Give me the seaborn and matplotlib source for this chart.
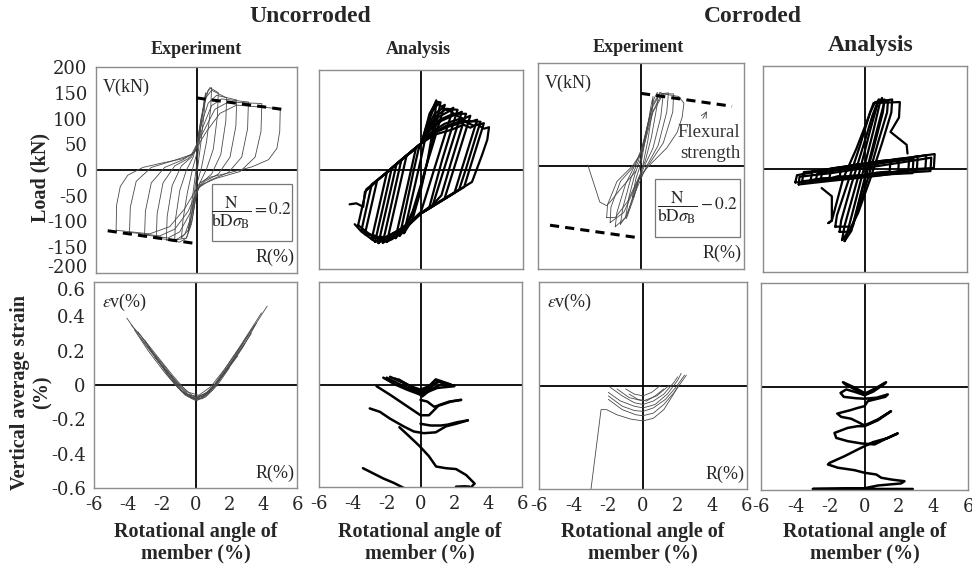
import matplotlib
matplotlib.use("Agg")
import matplotlib.pyplot as plt
import pandas as pd
import seaborn as sns
from matplotlib.patches import Rectangle

# ---------------------------------------------------------------------
# Data (R in %, V in kN, strain in %)
# ---------------------------------------------------------------------
# Uncorroded / experiment : load - rotation loops
ue_load = [
    [(-0.5, -120), (-0.35, -80), (-0.15, -30), (0.05, 20), (0.25, 80), (0.45, 135), (0.55, 150),
     (0.45, 110), (0.25, 50), (0.05, 0), (-0.15, -50), (-0.35, -100), (-0.5, -120)],
    [(-0.9, -132), (-0.8, -95), (-0.55, -45), (-0.25, 0), (0.0, 30), (0.2, 75), (0.45, 125), (0.7, 155),
     (0.9, 160), (0.85, 120), (0.6, 55), (0.3, 5), (0.0, -30), (-0.2, -70), (-0.45, -115), (-0.9, -132)],
    [(-1.3, -136), (-1.25, -95), (-1.0, -40), (-0.6, 0), (-0.2, 25), (0.05, 55), (0.3, 105), (0.55, 145),
     (0.8, 160), (1.3, 150), (1.25, 105), (1.0, 40), (0.6, 2), (0.2, -25), (-0.05, -55), (-0.3, -105),
     (-0.6, -132), (-1.3, -136)],
    [(-1.8, -136), (-1.75, -90), (-1.45, -30), (-0.9, 8), (-0.3, 25), (0.0, 45), (0.25, 95), (0.55, 140),
     (0.9, 155), (1.8, 140), (1.75, 95), (1.45, 30), (0.9, -8), (0.3, -25), (0.0, -45), (-0.25, -95),
     (-0.6, -132), (-1.0, -140), (-1.8, -136)],
    [(-2.4, -132), (-2.35, -85), (-2.0, -25), (-1.3, 8), (-0.5, 22), (-0.05, 38), (0.3, 90), (0.7, 130),
     (1.2, 145), (2.4, 136), (2.35, 85), (2.0, 25), (1.3, -8), (0.5, -22), (0.05, -38), (-0.3, -90),
     (-0.7, -125), (-1.3, -137), (-2.4, -132)],
    [(-3.1, -126), (-3.05, -80), (-2.7, -25), (-1.9, 5), (-0.8, 20), (-0.1, 35), (0.4, 85), (0.9, 125),
     (1.5, 138), (3.1, 132), (3.05, 80), (2.7, 25), (1.9, -5), (0.8, -20), (0.1, -35), (-0.4, -85),
     (-1.0, -120), (-1.7, -132), (-3.1, -126)],
    [(-4.0, -121), (-3.95, -72), (-3.6, -22), (-2.7, 5), (-1.4, 18), (-0.3, 30), (0.5, 80), (1.1, 118),
     (1.9, 132), (3.9, 129), (3.85, 75), (3.5, 25), (2.6, -3), (1.2, -16), (0.2, -30), (-0.5, -80),
     (-1.3, -115), (-2.2, -128), (-4.0, -121)],
    [(-4.8, -117), (-4.77, -68), (-4.55, -32), (-4.1, -10), (-3.2, 5), (-2.0, 14), (-0.8, 22), (-0.2, 32),
     (0.6, 75), (1.4, 110), (2.4, 126), (5.0, 119), (4.97, 75), (4.8, 42), (4.3, 20), (3.3, 6), (2.0, -5),
     (0.8, -14), (0.2, -25), (-0.7, -75), (-1.6, -110), (-2.8, -124), (-4.8, -117)],
]
ue_flex_pos_R = [0.0, 5.3]
ue_flex_pos_V = [140, 117]
ue_flex_neg_R = [-5.3, 0.0]
ue_flex_neg_V = [-118, -143]

# Uncorroded / analysis : load - rotation loops
ua_load = [
    [(-1.0, -128), (-0.5, -53), (0.0, 22), (0.3, 70), (0.6, 115), (0.9, 139), (0.8, 100), (0.4, 20),
     (0.0, -40), (-0.5, -100), (-1.0, -128)],
    [(-1.25, -133), (-0.85, -70), (-0.45, -5), (-0.15, 40), (0.1, 60), (0.5, 112), (0.9, 136), (1.15, 135),
     (0.95, 100), (0.55, 40), (0.15, -15), (-0.3, -70), (-0.8, -115), (-1.25, -133)],
    [(-1.5, -138), (-1.0, -63), (-0.6, -3), (-0.29, 44), (0.0, 52), (0.3, 85), (0.7, 118), (1.0, 132),
     (1.2, 126), (1.4, 130), (1.1, 97), (0.7, 50), (0.3, 6), (0.0, -30), (-0.5, -85), (-1.0, -120), (-1.5, -138)],
    [(-2.0, -145), (-1.6, -85), (-1.2, -25), (-0.85, 28), (-0.4, 41), (0.0, 52), (0.3, 80), (0.8, 112),
     (1.3, 124), (1.6, 118), (1.9, 124), (1.5, 80), (1.0, 25), (0.5, -30), (0.0, -85), (-0.8, -112),
     (-1.5, -135), (-2.0, -145)],
    [(-2.25, -147), (-1.85, -87), (-1.5, -33), (-1.15, 20), (-0.6, 35), (0.0, 52), (0.35, 80), (0.9, 108),
     (1.5, 122), (2.15, 120), (1.75, 76), (1.25, 20), (0.85, -30), (0.5, -75), (0.0, -88), (-0.8, -114),
     (-1.7, -140), (-2.25, -147)],
    [(-2.5, -148), (-2.1, -88), (-1.75, -36), (-1.44, 11), (-0.8, 29), (0.0, 52), (0.4, 80), (1.0, 105),
     (1.7, 118), (2.0, 110), (2.4, 116), (2.0, 72), (1.5, 17), (1.0, -38), (0.67, -74), (0.0, -88),
     (-0.8, -112), (-1.6, -135), (-2.2, -140), (-2.5, -148)],
    [(-2.7, -145), (-2.3, -85), (-2.0, -40), (-1.72, 3), (-1.0, 24), (-0.3, 44), (0.0, 52), (0.45, 78),
     (1.1, 100), (1.9, 112), (2.65, 112), (2.25, 68), (1.75, 12), (1.2, -52), (0.5, -78), (0.0, -88),
     (-0.9, -118), (-1.9, -142), (-2.7, -145)],
    [(-2.9, -140), (-2.5, -80), (-2.2, -35), (-2.0, -5), (-1.2, 18), (-0.4, 41), (0.0, 52), (0.5, 78),
     (1.2, 98), (2.0, 110), (2.5, 102), (2.9, 108), (2.5, 64), (2.0, 9), (1.38, -59), (0.6, -76), (0.0, -88),
     (-0.8, -113), (-1.8, -138), (-2.4, -135), (-2.9, -140)],
    [(-3.3, -130), (-2.9, -70), (-2.58, -22), (-1.6, 6), (-0.6, 35), (0.0, 52), (0.6, 75), (1.4, 92),
     (2.3, 102), (2.8, 95), (3.3, 100), (2.9, 56), (2.4, 1), (1.97, -47), (1.0, -67), (0.0, -88),
     (-1.0, -116), (-2.2, -140), (-2.8, -132), (-3.3, -130)],
    [(-3.5, -122), (-3.15, -68), (-2.9, -30), (-2.0, -6), (-1.0, 23), (0.0, 52), (0.65, 73), (1.5, 88),
     (2.4, 98), (3.5, 96), (3.1, 52), (2.65, 2), (2.25, -40), (1.2, -62), (0.0, -88), (-1.1, -118),
     (-2.3, -141), (-3.0, -132), (-3.5, -122)],
    [(-3.7, -112), (-3.4, -67), (-3.22, -40), (-2.3, -14), (-1.2, 18), (0.0, 52), (0.7, 72), (1.6, 86),
     (2.6, 96), (3.1, 88), (3.7, 93), (3.3, 49), (2.9, 5), (2.54, -35), (1.3, -61), (0.0, -88),
     (-1.2, -120), (-2.4, -142), (-3.1, -128), (-3.7, -112)],
    [(-4.2, -70), (-3.8, -68), (-3.4, -75), (-3.3, -45), (-2.4, -17), (-1.2, 18), (0.0, 52), (0.8, 70),
     (1.8, 80), (2.5, 90), (2.9, 84), (3.3, 91), (3.7, 82), (4.0, 85), (3.9, 60), (3.6, 30), (3.0, -25),
     (1.5, -57), (0.0, -88), (-1.5, -128), (-2.7, -145), (-3.5, -125), (-3.9, -110)],
]

# Corroded / experiment : load - rotation loops
ce_load = [
    [(-0.5, -60), (-0.3, -25), (0.0, 5), (0.3, 60), (0.6, 120), (0.7, 135), (0.65, 105), (0.4, 50),
     (0.1, 0), (-0.2, -35), (-0.45, -62), (-0.5, -60)],
    [(-0.9, -100), (-0.7, -60), (-0.35, -15), (0.0, 15), (0.35, 75), (0.75, 130), (0.95, 143), (0.95, 120),
     (0.6, 55), (0.25, 10), (0.0, -10), (-0.4, -60), (-0.85, -102), (-0.9, -100)],
    [(-1.2, -113), (-1.05, -80), (-0.6, -25), (-0.15, 10), (0.2, 55), (0.7, 120), (1.1, 143), (1.3, 140),
     (1.15, 95), (0.7, 35), (0.2, 0), (-0.3, -40), (-0.8, -95), (-1.2, -113)],
    [(-1.5, -118), (-1.4, -90), (-0.9, -35), (-0.3, 5), (0.1, 40), (0.6, 110), (1.1, 140), (1.6, 142),
     (1.5, 105), (1.0, 40), (0.3, -2), (-0.2, -40), (-0.9, -100), (-1.5, -118)],
    [(-1.8, -110), (-1.75, -80), (-1.2, -30), (-0.4, 0), (0.05, 30), (0.6, 100), (1.2, 140), (1.9, 140),
     (1.85, 105), (1.3, 45), (0.5, 5), (-0.2, -30), (-1.0, -90), (-1.8, -110)],
    [(-2.0, -100), (-1.95, -75), (-1.4, -30), (-0.5, 0), (0.1, 30), (0.7, 105), (1.3, 140), (2.2, 135),
     (2.5, 122), (2.4, 95), (2.1, 65), (1.5, 35), (0.6, 5), (-0.1, -20), (-0.8, -70), (-1.5, -100), (-2.0, -100)],
    [(-0.3, -10), (-1.2, -45), (-1.8, -70), (-2.0, -77), (-2.4, -70), (-3.1, 2)],
]
ce_flex_pos_R = [0.0, 5.3]
ce_flex_pos_V = [141, 116]
ce_flex_neg_R = [-5.3, 0.0]
ce_flex_neg_V = [-115, -140]

# Corroded / analysis : load - rotation loops (steep strips + flat loops)
ca_load = [
    [(-1.2, -140), (-1.0, -118), (-0.5, -55), (0.0, 10), (0.5, 75), (0.85, 125), (1.0, 138), (1.1, 125),
     (0.7, 75), (0.2, 10), (-0.3, -55), (-0.8, -120), (-1.2, -140)],
    [(-1.35, -138), (-1.2, -110), (-0.4, -15), (0.3, 75), (0.75, 128), (1.15, 135), (1.05, 110), (0.5, 40),
     (-0.2, -45), (-0.7, -110), (-1.35, -138)],
    [(-1.5, -122), (-1.4, -100), (-0.8, -30), (-0.1, 45), (0.45, 105), (0.8, 135), (1.35, 132), (1.3, 110),
     (0.8, 55), (0.2, -15), (-0.4, -80), (-0.9, -122), (-1.5, -122)],
    [(-1.75, -112), (-1.65, -90), (-1.0, -25), (-0.3, 45), (0.3, 110), (0.6, 130), (1.6, 135), (1.55, 110),
     (1.0, 50), (0.3, -20), (-0.4, -85), (-0.8, -112), (-1.75, -112)],
    [(-2.55, -37), (-1.95, -53), (-1.95, -100), (-2.15, -105), (-1.95, -100), (-1.3, -20), (-0.5, 40),
     (0.2, 100), (0.5, 128), (2.05, 130), (2.0, 100), (1.5, 72), (2.45, 47), (2.5, 30)],
    [(-1.5, -17), (-1.4, 3), (-0.7, 5), (0.0, 10), (0.8, 15), (1.5, 17), (1.45, -5), (0.7, -7), (0.0, -12),
     (-0.8, -13), (-1.5, -17)],
    [(-2.1, -19), (-2.0, 0), (-1.0, 5), (-0.5, 9), (0.0, 10), (1.0, 15), (1.5, 14), (2.0, 19), (1.95, -6),
     (1.0, -9), (0.0, -12), (-1.0, -15), (-1.6, -14), (-2.1, -19)],
    [(-2.6, -20), (-2.5, -2), (-1.2, 4), (-0.6, 8), (0.0, 11), (1.3, 16), (2.0, 20), (2.6, 22), (2.55, -4),
     (1.3, -8), (0.6, -12), (0.0, -13), (-1.3, -16), (-2.0, -20), (-2.6, -20)],
    [(-2.9, -23), (-2.8, -8), (-1.5, -2), (0.0, 6), (1.5, 14), (2.85, 20), (2.8, -8), (1.5, -10), (0.0, -15),
     (-1.5, -20), (-2.9, -23)],
    [(-3.2, -22), (-3.1, -4), (-2.2, -1), (-1.5, 3), (0.0, 10), (1.5, 17), (2.4, 20), (3.1, 25), (3.05, -2),
     (2.2, -3), (1.5, -7), (0.0, -12), (-1.6, -17), (-2.5, -18), (-3.2, -22)],
    [(-3.7, -24), (-3.6, -6), (-2.6, -3), (-1.8, 2), (0.0, 10), (1.8, 18), (2.8, 22), (3.6, 27), (3.55, -1),
     (2.6, -2), (1.8, -6), (0.0, -12), (-1.8, -18), (-3.0, -21), (-3.7, -24)],
    [(-3.9, -30), (-3.85, -15), (-2.0, -8), (0.0, 2), (2.0, 12), (3.9, 22), (3.85, -4), (2.0, -8), (0.0, -16),
     (-2.0, -23), (-3.9, -30)],
    [(-4.1, -26), (-4.0, -12), (-3.0, -6), (-2.0, 0), (-1.0, 4), (0.0, 9), (1.0, 16), (2.0, 19), (3.0, 24),
     (4.1, 29), (4.05, 2), (3.0, 0), (2.0, -5), (1.0, -7), (0.0, -12), (-1.0, -15), (-2.0, -18), (-3.0, -24),
     (-4.1, -26)],
]

# Uncorroded / experiment : vertical strain - rotation
ue_strain = [
    [(-4.06, 0.39), (-3.0, 0.24), (-2.0, 0.11), (-1.2, 0.0), (-0.6, -0.05), (0.0, -0.07), (0.6, -0.05),
     (1.2, 0.0), (2.0, 0.11), (3.0, 0.27), (4.24, 0.46)],
    [(-3.8, 0.35), (-3.0, 0.26), (-2.2, 0.16), (-1.3, 0.05), (-0.5, -0.04), (0.2, -0.06), (0.9, -0.01),
     (1.7, 0.09), (2.6, 0.22), (3.9, 0.42)],
    [(-3.6, 0.32), (-2.8, 0.2), (-1.8, 0.07), (-1.0, -0.02), (-0.3, -0.07), (0.3, -0.08), (1.0, -0.02),
     (1.9, 0.09), (2.8, 0.22), (3.6, 0.36)],
    [(-3.4, 0.31), (-2.6, 0.2), (-1.7, 0.08), (-0.9, 0.0), (-0.2, -0.06), (0.4, -0.07), (1.1, 0.0),
     (2.0, 0.13), (2.9, 0.26), (3.5, 0.35)],
    [(-3.2, 0.27), (-2.5, 0.18), (-1.5, 0.04), (-0.8, -0.04), (0.0, -0.08), (0.8, -0.04), (1.5, 0.05),
     (2.5, 0.18), (3.3, 0.3)],
    [(-2.8, 0.22), (-2.0, 0.13), (-1.0, 0.0), (-0.4, -0.06), (0.1, -0.09), (0.6, -0.06), (1.3, 0.02),
     (2.2, 0.14), (2.9, 0.24)],
    [(-2.4, 0.16), (-1.6, 0.07), (-0.9, -0.03), (-0.2, -0.08), (0.4, -0.08), (1.0, -0.03), (1.8, 0.08),
     (2.5, 0.17)],
    [(-2.0, 0.12), (-1.3, 0.03), (-0.6, -0.06), (0.0, -0.09), (0.6, -0.07), (1.3, 0.0), (2.0, 0.1)],
    [(-1.5, 0.06), (-1.0, 0.0), (-0.5, -0.05), (0.1, -0.075), (0.7, -0.04), (1.3, 0.02), (1.6, 0.06)],
    [(-3.0, 0.26), (-2.2, 0.14), (-1.4, 0.03), (-0.7, -0.05), (0.0, -0.085), (0.7, -0.05), (1.4, 0.03),
     (2.2, 0.15), (3.1, 0.29)],
]

# Uncorroded / analysis : vertical strain - rotation
ua_strain = [
    [(-2.2, 0.04), (-1.5, 0.0), (-0.8, -0.03), (0.0, -0.06), (0.5, -0.04), (1.0, -0.02), (2.0, -0.01)],
    [(-2.0, 0.04), (-1.2, 0.0), (-0.5, -0.03), (0.0, -0.05), (0.6, -0.02), (1.0, 0.02), (1.6, 0.0)],
    [(-1.8, 0.045), (-1.0, 0.01), (-0.4, -0.02), (0.0, -0.04), (0.5, -0.01), (0.9, 0.03), (1.8, 0.0)],
    [(-1.5, 0.035), (-0.8, 0.0), (-0.2, -0.04), (0.1, -0.07), (0.6, -0.03), (1.2, 0.0), (2.0, -0.005)],
    [(-1.3, 0.03), (-0.6, -0.01), (0.0, -0.03), (0.5, -0.01), (1.2, 0.02)],
    [(-2.6, -0.01), (-1.8, -0.06), (-1.2, -0.1), (-0.6, -0.14), (0.0, -0.18), (0.5, -0.18), (0.8, -0.15),
     (1.1, -0.12), (1.7, -0.1), (2.4, -0.09)],
    [(0.0, -0.09), (0.4, -0.1), (0.8, -0.13), (1.2, -0.12), (1.8, -0.1), (2.4, -0.09)],
    [(-3.0, -0.14), (-2.4, -0.16), (-1.8, -0.2), (-1.0, -0.245), (-0.4, -0.275), (0.2, -0.285),
     (0.9, -0.28), (1.5, -0.245), (2.1, -0.23), (2.8, -0.21)],
    [(0.0, -0.23), (0.6, -0.24), (1.2, -0.24), (1.6, -0.235), (2.2, -0.22), (2.8, -0.21)],
    [(-1.25, -0.25), (-0.7, -0.3), (-0.06, -0.36), (0.5, -0.42), (0.92, -0.48), (1.5, -0.49), (2.1, -0.495),
     (2.7, -0.53), (3.2, -0.58), (3.0, -0.6)],
    [(-3.4, -0.49), (-2.8, -0.52), (-2.2, -0.55), (-1.6, -0.575), (-0.9, -0.61)],
    [(2.1, -0.598), (2.6, -0.596), (2.9, -0.598)],
]

# Corroded / experiment : vertical strain - rotation
ce_strain = [
    [(-1.0, -0.02), (-0.5, -0.05), (0.0, -0.06), (0.5, -0.04), (1.0, 0.0)],
    [(-0.8, -0.05), (-0.3, -0.08), (0.2, -0.09), (0.7, -0.06), (1.2, -0.02)],
    [(-1.5, -0.02), (-0.8, -0.07), (0.0, -0.09), (0.8, -0.06), (1.5, 0.0)],
    [(-1.9, -0.01), (-1.2, -0.06), (-0.5, -0.1), (0.0, -0.11), (0.6, -0.09), (1.2, -0.05), (1.8, 0.02),
     (2.0, 0.05)],
    [(-2.0, -0.04), (-1.3, -0.09), (-0.5, -0.12), (0.0, -0.13), (0.7, -0.11), (1.4, -0.05), (2.0, 0.03),
     (2.2, 0.07)],
    [(-2.0, -0.06), (-1.2, -0.12), (-0.5, -0.145), (0.0, -0.15), (0.6, -0.13), (1.3, -0.08), (1.9, -0.01),
     (2.4, 0.06)],
    [(-2.0, -0.08), (-1.2, -0.14), (-0.4, -0.17), (0.0, -0.175), (0.6, -0.16), (1.2, -0.11), (1.8, -0.04),
     (2.5, 0.06)],
    [(-2.4, -0.14), (-2.1, -0.14), (-1.5, -0.17), (-0.7, -0.195), (0.0, -0.205), (0.6, -0.19),
     (1.2, -0.14), (1.7, -0.06), (2.0, -0.01)],
    [(-2.42, -0.14), (-3.0, -0.6)],
]

# Corroded / analysis : vertical strain - rotation
ca_strain = [
    [(-1.2, 0.02), (-0.6, -0.01), (0.0, -0.045), (0.6, -0.015), (1.2, 0.02)],
    [(-1.15, 0.015), (-0.5, -0.02), (0.0, -0.05), (0.6, -0.02), (1.15, 0.015)],
    [(-1.25, 0.025), (-0.6, -0.005), (0.05, -0.04), (0.65, -0.01), (1.25, 0.025)],
    [(1.2, 0.02), (0.5, -0.03), (0.0, -0.05), (-0.6, -0.03), (-1.06, -0.017), (-1.39, -0.037), (-1.2, -0.06),
     (-0.5, -0.068), (0.0, -0.071), (0.7, -0.065), (1.35, -0.046), (1.2, -0.06), (0.19, -0.085),
     (0.0, -0.114), (-0.39, -0.124), (-0.81, -0.137), (-1.58, -0.157), (-1.35, -0.176), (-0.77, -0.187),
     (-0.3, -0.21), (0.0, -0.226), (0.77, -0.191), (1.54, -0.143), (0.77, -0.196), (0.0, -0.23),
     (-0.39, -0.23), (-0.97, -0.24), (-1.74, -0.269), (-1.64, -0.298), (-0.97, -0.317), (-0.19, -0.33),
     (0.58, -0.336), (1.16, -0.307), (1.93, -0.272), (1.3, -0.3), (0.48, -0.323), (-0.39, -0.365),
     (-1.16, -0.404), (-2.03, -0.443), (-2.12, -0.452), (-1.54, -0.471), (-0.58, -0.485), (0.0, -0.5),
     (0.68, -0.51), (0.97, -0.529), (1.54, -0.539), (2.32, -0.549), (2.12, -0.562), (0.77, -0.574),
     (0.0, -0.59), (-3.0, -0.594), (2.8, -0.594)],
]

load_ticks = [200, 150, 100, 50, 0, -50, -100, -150, -200]
load_tick_labels = ["200", "150", "100", "50", "0", "-50", "-100", "-150", "-200"]
strain_ticks = [0.6, 0.4, 0.2, 0, -0.2, -0.4, -0.6]
strain_tick_labels = ["0.6", "0.4", "0.2", "0", "-0.2", "-0.4", "-0.6"]
rot_ticks = list(range(-6, 7))
rot_tick_labels = ["-6", "", "-4", "", "-2", "", "0", "", "2", "", "4", "", "6"]

# ---------------------------------------------------------------------
# Figure
# ---------------------------------------------------------------------
sns.set_style("white")
plt.rcParams["font.family"] = ["DejaVu Serif"]
plt.rcParams["mathtext.fontset"] = "stix"
plt.rcParams["axes.unicode_minus"] = False

W, H = 972, 566
fig = plt.figure(figsize=(W / 100, H / 100), dpi=100)


def box(x0, y0, x1, y1):
    return [x0 / W, 1 - y1 / H, (x1 - x0) / W, (y1 - y0) / H]


def to_frame(loops):
    rows = [(i, r, v) for i, loop in enumerate(loops) for r, v in loop]
    return pd.DataFrame(rows, columns=["loop", "R", "y"])


def draw(ax, loops, color, lw):
    sns.lineplot(data=to_frame(loops), x="R", y="y", units="loop", estimator=None,
                 sort=False, color=color, lw=lw, ax=ax, legend=False)


def style(ax, ylim, yticks, ylabels=None, xlabels=False):
    ax.set_xlim(-6, 6)
    ax.set_ylim(*ylim)
    for s in ax.spines.values():
        s.set_color("#8c8c8c")
        s.set_linewidth(1.0)
    ax.set_xticks(rot_ticks)
    ax.set_xticklabels(rot_tick_labels if xlabels else [])
    ax.set_yticks(yticks)
    ax.set_yticklabels(ylabels if ylabels else [])
    ax.tick_params(direction="in", length=5, color="#8c8c8c", width=0.8,
                   labelsize=13, pad=6)
    ax.axhline(0, color="k", lw=1.3, zorder=1)
    ax.axvline(0, color="k", lw=1.3, zorder=1)
    ax.set_xlabel("")
    ax.set_ylabel("")


thin = "#4a4a4a"
serif = "Liberation Serif"

ax1 = fig.add_axes(box(96, 67, 297, 273))
ax2 = fig.add_axes(box(319, 70, 523, 269))
ax3 = fig.add_axes(box(538, 63, 744, 269))
ax4 = fig.add_axes(box(763, 66, 967, 272))
ax5 = fig.add_axes(box(94, 282, 297, 488))
ax6 = fig.add_axes(box(319, 282, 522, 487))
ax7 = fig.add_axes(box(539, 282, 747, 489))
ax8 = fig.add_axes(box(761, 283, 968, 490))

draw(ax1, ue_load, thin, 0.6)
draw(ax2, ua_load, "k", 1.6)
draw(ax3, ce_load, thin, 0.6)
draw(ax4, ca_load, "k", 1.6)
draw(ax5, ue_strain, thin, 0.6)
draw(ax6, ua_strain, "k", 1.8)
draw(ax7, ce_strain, thin, 0.6)
draw(ax8, ca_strain, "k", 1.8)

for ax, pr, pv, nr, nv in [(ax1, ue_flex_pos_R, ue_flex_pos_V, ue_flex_neg_R, ue_flex_neg_V),
                           (ax3, ce_flex_pos_R, ce_flex_pos_V, ce_flex_neg_R, ce_flex_neg_V)]:
    sns.lineplot(x=pr, y=pv, color="k", lw=2.2, linestyle=(0, (3, 2)), ax=ax)
    sns.lineplot(x=nr, y=nv, color="k", lw=2.2, linestyle=(0, (3, 2)), ax=ax)

style(ax1, (-200, 200), load_ticks, load_tick_labels)
for ax in (ax2, ax3, ax4):
    style(ax, (-200, 200), [150, 100, 50, -50, -100, -150])
style(ax5, (-0.6, 0.6), strain_ticks, strain_tick_labels, xlabels=True)
for ax in (ax6, ax7, ax8):
    style(ax, (-0.6, 0.6), [0.4, 0.2, -0.2, -0.4], xlabels=True)

# "-200" and "0.6" sit just inside the axis ends, as in the original
for lab in ax1.get_yticklabels():
    if lab.get_text() == "-200":
        lab.set_va("baseline")
for lab in ax5.get_yticklabels():
    if lab.get_text() == "0.6":
        lab.set_va("top")

# labels inside the experiment panels
for ax in (ax1, ax3):
    ax.text(0.035, 0.9, "V(kN)", transform=ax.transAxes, ha="left", va="center",
            family=serif, fontsize=13)
    ax.text(0.99, 0.075, "R(%)", transform=ax.transAxes, ha="right", va="center",
            family=serif, fontsize=13)
for ax in (ax5, ax7):
    ax.text(0.04, 0.9, r"$\varepsilon$v(%)", transform=ax.transAxes, ha="left", va="center",
            family=serif, fontsize=13)
    ax.text(0.99, 0.07, "R(%)", transform=ax.transAxes, ha="right", va="center",
            family=serif, fontsize=13)

ax1.add_patch(Rectangle((0.9, -138), 4.8, 111, fill=False, ec="#777777", lw=0.9, zorder=3))
ax1.text(3.3, -82, r"$\dfrac{\mathrm{N}}{\mathrm{bD}\sigma_{\mathrm{B}}}=0.2$", ha="center",
         va="center", fontsize=12.5)
ax3.add_patch(Rectangle((0.82, -137), 4.95, 111, fill=False, ec="#777777", lw=0.9, zorder=3))
ax3.text(3.3, -80, r"$\dfrac{\mathrm{N}}{\mathrm{bD}\sigma_{\mathrm{B}}}-0.2$", ha="center",
         va="center", fontsize=12.5)
ax3.text(5.8, 66, "Flexural", ha="right", va="center", family=serif, fontsize=13.5, color="#333333")
ax3.text(5.8, 25, "strength", ha="right", va="center", family=serif, fontsize=13.5, color="#333333")
ax3.annotate("", xy=(3.92, 111), xytext=(3.53, 88),
             arrowprops=dict(arrowstyle="->", lw=0.6, color="#444444"))


# titles and axis labels
def ftext(x, y, s, **kw):
    fig.text(x / W, 1 - y / H, s, ha="center", va="center", family=serif,
             fontweight="bold", **kw)


ftext(310, 17, "Uncorroded", fontsize=17)
ftext(753, 17, "Corroded", fontsize=17)
ftext(196, 49, "Experiment", fontsize=13)
ftext(418, 50, "Analysis", fontsize=13)
ftext(638, 47, "Experiment", fontsize=13)
ftext(871, 45, "Analysis", fontsize=17)
ftext(40, 178, "Load (kN)", fontsize=14.5, rotation=90)
ftext(20, 392, "Vertical average strain", fontsize=14.5, rotation=90)
ftext(43, 392, "(%)", fontsize=14.5, rotation=90)
for cx in (196, 420, 643, 865):
    ftext(cx, 543, "Rotational angle of\nmember (%)", fontsize=14.5, linespacing=1.1)

fig.savefig("out.png", dpi=100)
